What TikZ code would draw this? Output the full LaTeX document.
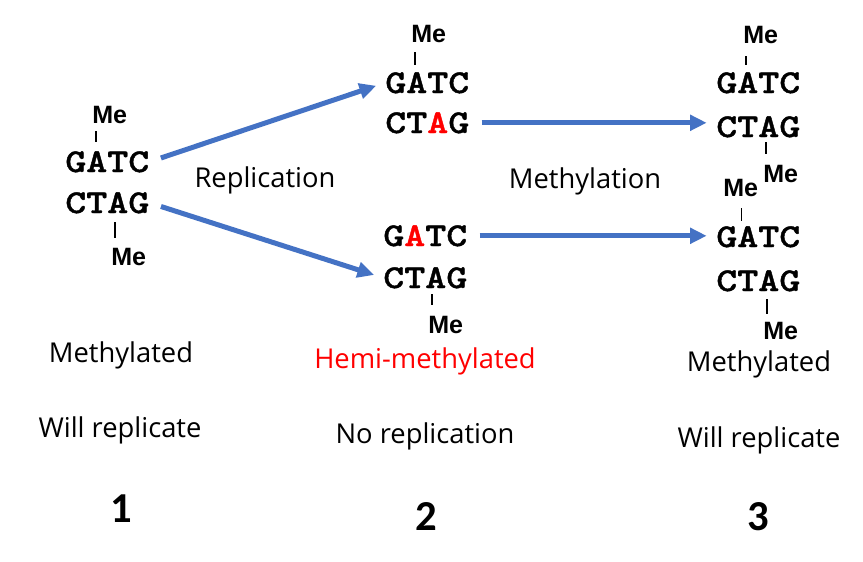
\documentclass[tikz,border=0pt]{standalone}
\usepackage{fontspec}
\setmainfont{Open Sans}
\newfontfamily\dnafont[Extension=.otf, UprightFont=lmmonolt10-bold, BoldFont=lmmonolt10-bold, FakeStretch=1.2, FakeBold=1.2]{lmmonolt10-bold}
\newfontfamily\mefont{Liberation Sans}
\newfontfamily\numfont{Carlito}
\usepackage{tikz}
\usetikzlibrary{arrows.meta,positioning,calc}
\definecolor{dnablue}{RGB}{68,114,196}
\definecolor{hemired}{RGB}{255,0,0}

\begin{document}
\begin{tikzpicture}[
    x=0.75pt, y=-0.75pt,
    strand/.style={inner sep=0pt, anchor=base west, font=\dnafont\fontsize{25}{28}\selectfont},
    methyl/.style={inner sep=0pt, anchor=base west, font=\mefont\bfseries\fontsize{18.8}{20}\selectfont},
    tick/.style={line width=1.1pt},
    arrow/.style={-{Triangle[length=12.5pt,width=11.5pt]}, line width=3.75pt, dnablue, shorten <=9pt, shorten >=7pt},
    annot/.style={inner sep=0pt, anchor=base, font=\fontsize{20.5}{24}\selectfont},
    stage/.style={inner sep=0pt, anchor=base, font=\numfont\bfseries\fontsize{32}{36}\selectfont}
]
\useasboundingbox (0,0) rectangle (863,561);

% Column 1: fully methylated
\node[strand] (s1a) at (65,172) {GATC};
\node[strand] (s1b) at (65,213) {CTAG};
\node[methyl] (m1a) at (92,123) {Me};
\node[methyl] (m1b) at (111,265) {Me};

% Column 2: after replication
\node[strand] (s2a) at (385,93) {GATC};
\node[strand] (s2b) at (385,133) {CT\textcolor{hemired}{A}G};
\node[strand] (s2c) at (383,246) {G\textcolor{hemired}{A}TC};
\node[strand] (s2d) at (383,288) {CTAG};
\node[methyl] (m2a) at (411,42) {Me};
\node[methyl] (m2d) at (428,333) {Me};

% Column 3: after methylation
\node[strand] (s3a) at (716,93) {GATC};
\node[strand] (s3b) at (716,137) {CTAG};
\node[strand] (s3c) at (716,247) {GATC};
\node[strand] (s3d) at (716,291) {CTAG};
\node[methyl] (m3a) at (743,43) {Me};
\node[methyl] (m3b) at (763,182) {Me};
\node[methyl] (m3c) at (723,196) {Me};
\node[methyl] (m3d) at (763,339) {Me};

% Methyl ticks
\draw[tick] ($(m1a.base west)+(4,8)$) -- ($(m1a.base west |- s1a.north)+(4,-9)$);
\draw[tick] ($(m1b.base west |- s1b.base)+(4,9)$) -- ($(m1b.north west)+(4,-9)$);
\draw[tick] ($(m2a.base west)+(4,10)$) -- ($(m2a.base west |- s2a.north)+(4,-7)$);
\draw[tick] ($(m2d.base west |- s2d.base)+(4,6)$) -- ($(m2d.north west)+(4,-10)$);
\draw[tick] ($(m3a.base west)+(3,13)$) -- ($(m3a.base west |- s3a.north)+(3,-7)$);
\draw[tick] ($(m3b.base west |- s3b.base)+(3,5)$) -- ($(m3b.north west)+(3,-10)$);
\draw[tick] ($(m3c.base)+(1,12)$) -- ($(m3c.base |- s3c.north)+(1,-5)$);
\draw[tick] ($(m3d.base west |- s3d.base)+(4,8)$) -- ($(m3d.north west)+(4,-7)$);

% Arrows
\draw[arrow] (s1a.east) -- (s2a.west);
\draw[arrow] (s1b.east) -- (s2d.west);
\draw[arrow] (s2b.east) -- (s2b.east -| s3b.west);
\draw[arrow] (s2c.east) -- (s2c.east -| s3c.west);
\node[annot] (repl) at (265,187) {Replication};
\node[annot] (meth) at (585,188) {Methylation};

% Captions
\node[annot] (cap1a) at (121,362) {Methylated};
\node[annot] (cap1b) at (120,437) {Will replicate};
\node[annot, text=hemired] (cap2a) at (425,368) {Hemi-methylated};
\node[annot] (cap2b) at (425,443) {No replication};
\node[annot] (cap3a) at (759,371) {Methylated};
\node[annot] (cap3b) at (759,447) {Will replicate};

% Stage numbers
\node[stage] (n1) at (121,522) {1};
\node[stage] (n2) at (426,530) {2};
\node[stage] (n3) at (758,530) {3};

\end{tikzpicture}
\end{document}
